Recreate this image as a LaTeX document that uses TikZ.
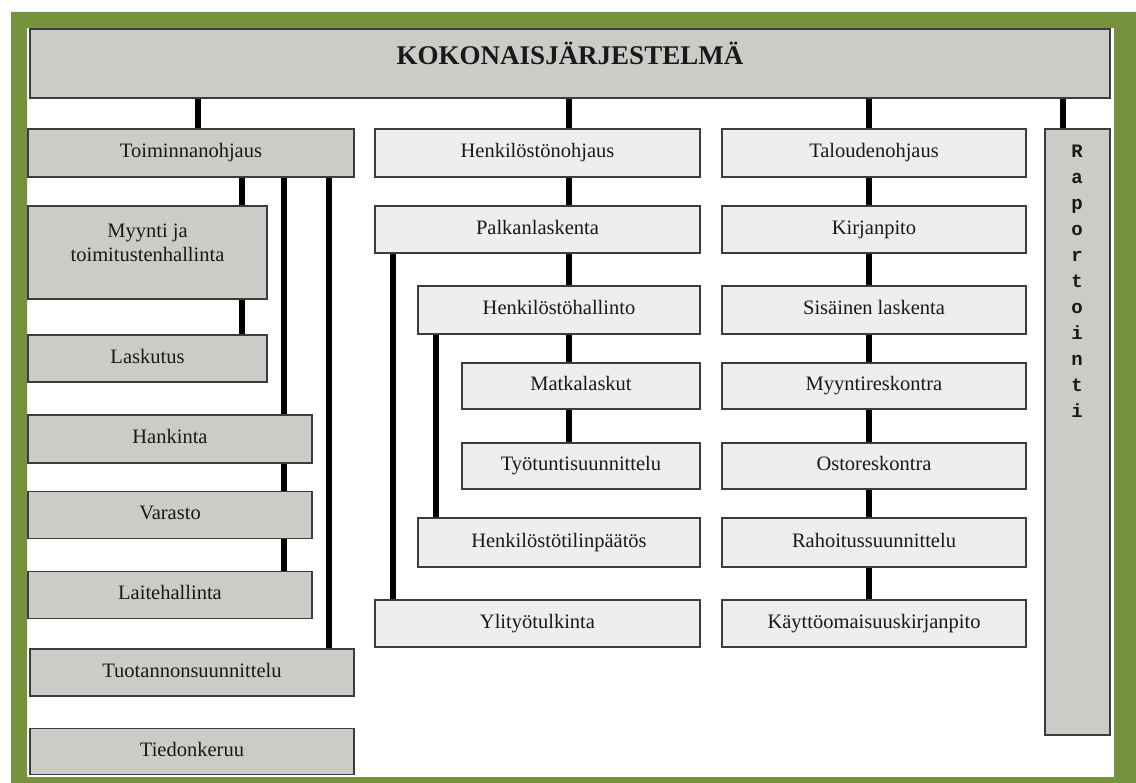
\documentclass[tikz,border=0pt]{standalone}
\usepackage{fontspec}
\setmainfont{Liberation Serif}
\newfontfamily\monofont{Liberation Mono}
\definecolor{frame}{RGB}{119,146,60}
\definecolor{darkfill}{RGB}{205,203,200}
\definecolor{lightfill}{RGB}{238,238,237}
\definecolor{edge}{RGB}{60,60,60}
\definecolor{ink}{RGB}{25,25,25}
\tikzset{
  box/.style={draw=edge, line width=1.6pt, inner sep=0pt, text=ink,
    text height=14pt, text depth=4.5pt, font=\fontsize{20.5}{23}\selectfont},
  graybox/.style={box, fill=darkfill},
  whitebox/.style={box, fill=lightfill},
  conn/.style={line width=6pt, draw=black},
  txt/.style={inner sep=0pt, text=ink, align=center}
}
\begin{document}
\begin{tikzpicture}[x=1pt,y=-1pt]
\useasboundingbox (0,0) rectangle (1136,783);
% white page with the olive frame
\fill[white] (0,0) rectangle (1136,783);
\fill[frame, even odd rule] (11,12) rectangle (1140,795) (27,28) rectangle (1114,777);

% top level
\node[graybox, minimum width=1080pt, minimum height=69pt] (top) at (570,63.5) {};
\node[txt, font=\fontsize{27}{30}\selectfont\bfseries] (toptxt) at (570,53) {KOKONAISJÄRJESTELMÄ};

% left column
\node[graybox, minimum width=326pt, minimum height=48pt] (toim) at (191,153) {Toiminnanohjaus};
\node[graybox, minimum width=239pt, minimum height=93pt] (myynti) at (147.5,252.5) {};
\node[txt, font=\fontsize{20.5}{24}\selectfont] (myyntitxt) at (147.5,243) {Myynti ja\\toimitustenhallinta};
\node[graybox, minimum width=239pt, minimum height=47pt] (lasku) at (147.5,358.5) {Laskutus};
\node[graybox, minimum width=284pt, minimum height=48pt] (hank) at (170,439) {Hankinta};
\node[graybox, minimum width=284pt, minimum height=47pt] (var) at (170,515) {Varasto};
\node[graybox, minimum width=284pt, minimum height=47pt] (laite) at (170,595) {Laitehallinta};
\node[graybox, minimum width=324pt, minimum height=47pt] (tuot) at (192,672.5) {Tuotannonsuunnittelu};
\node[graybox, minimum width=324pt, minimum height=46pt] (tied) at (192,751.5) {Tiedonkeruu};

% middle column
\node[whitebox, minimum width=325pt, minimum height=48pt] (henk) at (537.5,153) {Henkilöstönohjaus};
\node[whitebox, minimum width=325pt, minimum height=47pt] (palk) at (537.5,229.5) {Palkanlaskenta};
\node[whitebox, minimum width=282pt, minimum height=48pt] (hhall) at (559,310) {Henkilöstöhallinto};
\node[whitebox, minimum width=238pt, minimum height=46pt] (matka) at (581,386) {Matkalaskut};
\node[whitebox, minimum width=238pt, minimum height=46pt] (tyot) at (581,466) {Työtuntisuunnittelu};
\node[whitebox, minimum width=282pt, minimum height=49pt] (htilin) at (559,542.5) {Henkilöstötilinpäätös};
\node[whitebox, minimum width=325pt, minimum height=47pt] (yli) at (537.5,623.5) {Ylityötulkinta};

% right column
\node[whitebox, minimum width=304pt, minimum height=48pt] (talo) at (874,153) {Taloudenohjaus};
\node[whitebox, minimum width=304pt, minimum height=47pt] (kirja) at (874,229.5) {Kirjanpito};
\node[whitebox, minimum width=304pt, minimum height=48pt] (sis) at (874,310) {Sisäinen laskenta};
\node[whitebox, minimum width=304pt, minimum height=46pt] (myres) at (874,386) {Myyntireskontra};
\node[whitebox, minimum width=304pt, minimum height=46pt] (ostres) at (874,466) {Ostoreskontra};
\node[whitebox, minimum width=304pt, minimum height=49pt] (rahoi) at (874,542.5) {Rahoitussuunnittelu};
\node[whitebox, minimum width=304pt, minimum height=47pt] (kaytto) at (874,623.5) {Käyttöomaisuuskirjanpito};

% reporting bar
\node[graybox, minimum width=65pt, minimum height=606pt] (rap) at (1077.5,432) {};
\node[txt, anchor=north, font=\fontsize{19}{26}\monofont\bfseries] (raptxt) at (1077,145) {R\\a\\p\\o\\r\\t\\o\\i\\n\\t\\i};

% vertical guide positions
\coordinate (xa) at (198,0);
\coordinate (xb) at (242,0);
\coordinate (xc) at (284,0);
\coordinate (xd) at (329,0);
\coordinate (xe) at (569,0);
\coordinate (xf) at (393,0);
\coordinate (xg) at (436,0);
\coordinate (xh) at (869,0);
\coordinate (xi) at (1063,0);

% connectors from the top box
\draw[conn] (top.south -| xa) -- (toim.north -| xa);
\draw[conn] (top.south -| xe) -- (henk.north -| xe);
\draw[conn] (top.south -| xh) -- (talo.north -| xh);
\draw[conn] (top.south -| xi) -- (rap.north -| xi);

% left column connectors
\draw[conn] (toim.south -| xb) -- (myynti.north -| xb);
\draw[conn] (myynti.south -| xb) -- (lasku.north -| xb);
\draw[conn] (toim.south -| xc) -- (hank.north -| xc);
\draw[conn] (hank.south -| xc) -- (var.north -| xc);
\draw[conn] (var.south -| xc) -- (laite.north -| xc);
\draw[conn] (toim.south -| xd) -- (tuot.north -| xd);

% middle column connectors
\draw[conn] (henk.south -| xe) -- (palk.north -| xe);
\draw[conn] (palk.south -| xe) -- (hhall.north -| xe);
\draw[conn] (hhall.south -| xe) -- (matka.north -| xe);
\draw[conn] (matka.south -| xe) -- (tyot.north -| xe);
\draw[conn] (palk.south -| xf) -- (yli.north -| xf);
\draw[conn] (hhall.south -| xg) -- (htilin.north -| xg);

% right column connectors
\draw[conn] (talo.south -| xh) -- (kirja.north -| xh);
\draw[conn] (kirja.south -| xh) -- (sis.north -| xh);
\draw[conn] (sis.south -| xh) -- (myres.north -| xh);
\draw[conn] (myres.south -| xh) -- (ostres.north -| xh);
\draw[conn] (ostres.south -| xh) -- (rahoi.north -| xh);
\draw[conn] (rahoi.south -| xh) -- (kaytto.north -| xh);
\end{tikzpicture}
\end{document}
